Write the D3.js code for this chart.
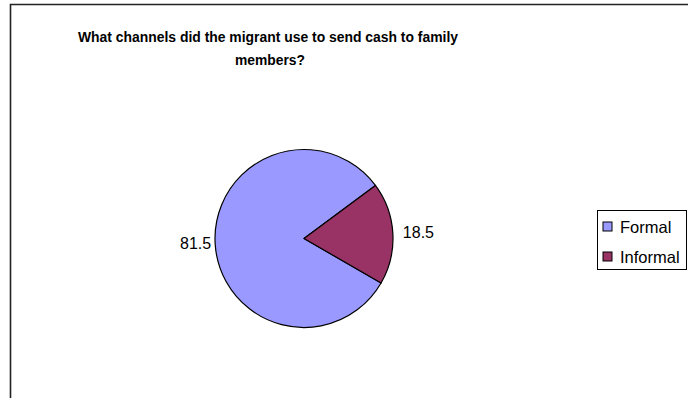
<!DOCTYPE html>
<html>
<head>
<meta charset="utf-8">
<script src="https://cdn.jsdelivr.net/npm/d3@7"></script>
<style>
  html, body { margin: 0; padding: 0; background: #fff; }
  svg { display: block; }
</style>
</head>
<body>
<svg id="chart" width="688" height="398"></svg>
<script>
// Channels used to send cash home (percent of migrants)
const categories = ["Formal", "Informal"];
const values = [81.5, 18.5];
const colors = ["#9999FF", "#993366"];
const titleLines = ["What channels did the migrant use to send cash to family", "members?"];

const svg = d3.select("#chart");

// chart frame
svg.append("path")
  .attr("d", "M10.5,400 L10.5,4.5 L690,4.5")
  .attr("fill", "none")
  .attr("stroke", "#222")
  .attr("stroke-width", 1.6);

// title (narrow bold face)
const title = svg.append("g")
  .attr("font-family", "'Liberation Sans', Arial, sans-serif")
  .attr("font-weight", "bold")
  .attr("font-size", 14)
  .attr("fill", "#000");
title.append("text")
  .attr("x", 268).attr("y", 42)
  .attr("text-anchor", "middle")
  .attr("textLength", 380)
  .attr("lengthAdjust", "spacingAndGlyphs")
  .text(titleLines[0]);
title.append("text")
  .attr("x", 270).attr("y", 65)
  .attr("text-anchor", "middle")
  .attr("textLength", 70)
  .attr("lengthAdjust", "spacingAndGlyphs")
  .text(titleLines[1]);

// pie
const cx = 304, cy = 238.5, r = 89;
const startDeg = 120;
const pie = d3.pie().sort(null)
  .startAngle(startDeg * Math.PI / 180)
  .endAngle((startDeg + 360) * Math.PI / 180);
const arcs = pie(values);
const arc = d3.arc().innerRadius(0).outerRadius(r);

const g = svg.append("g").attr("transform", `translate(${cx},${cy})`);
g.selectAll("path.slice")
  .data(arcs)
  .join("path")
  .attr("class", "slice")
  .attr("d", arc)
  .attr("fill", (d, i) => colors[i])
  .attr("stroke", "#000")
  .attr("stroke-width", 1.2)
  .attr("stroke-linejoin", "round");

// value labels just outside the rim
const isRight = d => Math.sin((d.startAngle + d.endAngle) / 2) >= 0;
const rightArc = d3.arc().innerRadius(r + 10).outerRadius(r + 10);
const leftArc = d3.arc().innerRadius(r + 4).outerRadius(r + 4);
g.selectAll("text.val")
  .data(arcs)
  .join("text")
  .attr("class", "val")
  .attr("font-family", "'Liberation Sans', Arial, sans-serif")
  .attr("font-size", 16)
  .attr("fill", "#000")
  .attr("dominant-baseline", "central")
  .attr("text-anchor", d => isRight(d) ? "start" : "end")
  .attr("transform", d => {
    const [x, y] = (isRight(d) ? rightArc : leftArc).centroid(d);
    return `translate(${x},${y})`;
  })
  .text(d => d.data.toFixed(1));

// legend
const legend = svg.append("g").attr("transform", "translate(597,210)");
legend.append("rect")
  .attr("x", 0.5).attr("y", 0.5)
  .attr("width", 89).attr("height", 59)
  .attr("fill", "#fff")
  .attr("stroke", "#000")
  .attr("stroke-width", 1);
const items = legend.selectAll("g.item")
  .data(categories)
  .join("g")
  .attr("class", "item")
  .attr("transform", (d, i) => `translate(6,${12 + i * 30})`);
items.append("rect")
  .attr("width", 9).attr("height", 9)
  .attr("fill", (d, i) => colors[i])
  .attr("stroke", "#000")
  .attr("stroke-width", 1);
items.append("text")
  .attr("x", 17).attr("y", 4.5)
  .attr("dominant-baseline", "central")
  .attr("font-family", "'Liberation Sans', Arial, sans-serif")
  .attr("font-size", 16.5)
  .attr("fill", "#000")
  .text(d => d);
</script>
</body>
</html>
